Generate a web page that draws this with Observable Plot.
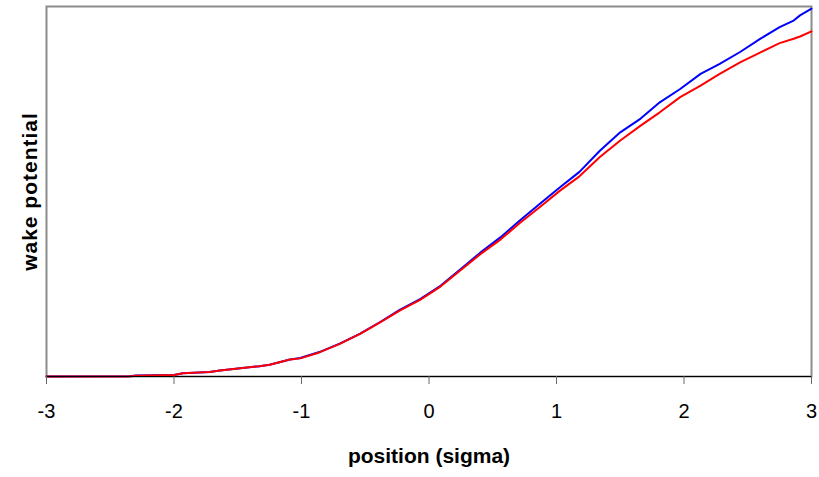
<!DOCTYPE html>
<html>
<head>
<meta charset="utf-8">
<script src="https://cdn.jsdelivr.net/npm/d3@7"></script>
<script src="https://cdn.jsdelivr.net/npm/@observablehq/plot@0.6"></script>
<style>
  html, body { margin: 0; padding: 0; background: #fff; }
  #chart { width: 819px; height: 477px; }
  svg { font-family: "Liberation Sans", Arial, sans-serif; }
  .ylab text { letter-spacing: 1px; }
</style>
</head>
<body>
<div id="chart"></div>
<script>
// position (sigma)
const positions = [-3, -2.35, -2.3, -2.0, -1.93, -1.72, -1.64, -1.48, -1.33, -1.25, -1.09, -1.01, -0.86, -0.70, -0.54, -0.38, -0.23, -0.07, 0.06, 0.09, 0.24, 0.40, 0.56, 0.71, 0.87, 1.03, 1.18, 1.34, 1.50, 1.66, 1.81, 1.97, 2.13, 2.28, 2.44, 2.60, 2.75, 2.86, 2.91, 3.0];
// wake potential, blue series
const blueValues = [0, 0.001, 0.003, 0.004, 0.009, 0.012, 0.016, 0.022, 0.028, 0.032, 0.046, 0.050, 0.066, 0.089, 0.116, 0.148, 0.180, 0.209, 0.238, 0.245, 0.288, 0.334, 0.376, 0.421, 0.467, 0.512, 0.553, 0.610, 0.660, 0.697, 0.741, 0.777, 0.818, 0.845, 0.877, 0.913, 0.944, 0.962, 0.976, 0.994];
// wake potential, red series
const redValues = [0, 0, 0.002, 0.004, 0.009, 0.012, 0.016, 0.022, 0.028, 0.032, 0.046, 0.049, 0.065, 0.088, 0.115, 0.147, 0.178, 0.207, 0.236, 0.243, 0.285, 0.330, 0.370, 0.414, 0.458, 0.503, 0.541, 0.593, 0.638, 0.678, 0.714, 0.755, 0.786, 0.818, 0.849, 0.876, 0.901, 0.913, 0.919, 0.933];
const xTicks = [-3, -2, -1, 0, 1, 2, 3];
const xLabel = "position (sigma)";
const yLabel = "wake potential";

const blue = positions.map((x, i) => ({x, y: blueValues[i]}));
const red = positions.map((x, i) => ({x, y: redValues[i]}));

const chart = Plot.plot({
  width: 819,
  height: 477,
  marginLeft: 46,
  marginRight: 8,
  marginTop: 6,
  marginBottom: 101,
  style: {fontFamily: "'Liberation Sans', Arial, sans-serif", background: "#fff", color: "#000"},
  x: {domain: [-3, 3]},
  y: {domain: [0, 1], axis: null},
  marks: [
    Plot.frame({stroke: "#8c8c8c", strokeWidth: 2}),
    Plot.line(blue, {x: "x", y: "y", stroke: "#0000ff", strokeWidth: 2}),
    Plot.line(red, {x: "x", y: "y", stroke: "#ff0000", strokeWidth: 2}),
    Plot.ruleY([0], {stroke: "#000", strokeWidth: 1}),
    Plot.axisX({ticks: xTicks, tickSize: 8, tickPadding: 19, fontSize: 20, label: null, stroke: "#666", tickFormat: d => d < 0 ? "-" + Math.abs(d) : String(d)}),
    Plot.text([xLabel], {frameAnchor: "bottom", dy: 86, fontWeight: "bold", fontSize: 21, fill: "#000"}),
    Plot.text([yLabel], {frameAnchor: "left", dx: -16, rotate: -90, textAnchor: "middle", fontWeight: "bold", fontSize: 21, fill: "#000", className: "ylab"})
  ]
});
document.getElementById("chart").append(chart);
</script>
</body>
</html>
